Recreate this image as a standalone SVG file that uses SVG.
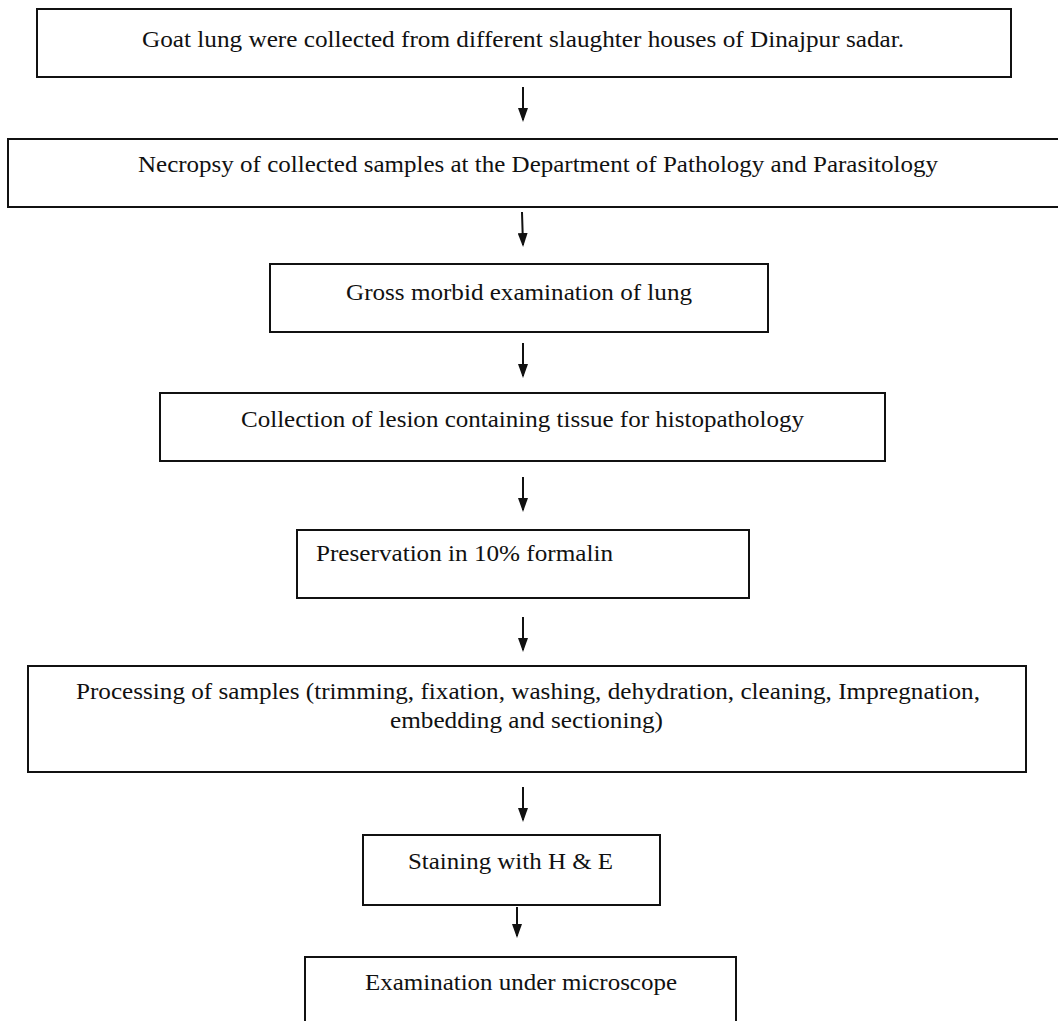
<svg xmlns="http://www.w3.org/2000/svg" width="1058" height="1021" viewBox="0 0 1058 1021">
<style>
.box{fill:#fff;stroke:#111;stroke-width:2}
.t{font-family:"Liberation Serif",serif;font-size:24px;fill:#111}
.c{stroke:#111;stroke-width:2;fill:none}
</style>
<defs>
<marker id="ah" markerWidth="7" markerHeight="5" refX="6" refY="2.5" orient="auto" markerUnits="strokeWidth">
<path d="M0,0 L7,2.5 L0,5 Z" fill="#111"/>
</marker>
</defs>
<rect width="1058" height="1021" fill="#fff"/>
<g id="n1"><rect class="box" x="37" y="9" width="974" height="68"/><text class="t" x="142" y="47" textLength="762" lengthAdjust="spacingAndGlyphs">Goat lung were collected from different slaughter houses of Dinajpur sadar.</text></g>
<g id="n2"><rect class="box" x="8" y="139" width="1070" height="68"/><text class="t" x="138" y="172" textLength="800" lengthAdjust="spacingAndGlyphs">Necropsy of collected samples at the Department of Pathology and Parasitology</text></g>
<g id="n3"><rect class="box" x="270" y="264" width="498" height="68"/><text class="t" x="346" y="300" textLength="346" lengthAdjust="spacingAndGlyphs">Gross morbid examination of lung</text></g>
<g id="n4"><rect class="box" x="160" y="393" width="725" height="68"/><text class="t" x="241" y="427" textLength="563" lengthAdjust="spacingAndGlyphs">Collection of lesion containing tissue for histopathology</text></g>
<g id="n5"><rect class="box" x="297" y="530" width="452" height="68"/><text class="t" x="316" y="561" textLength="297" lengthAdjust="spacingAndGlyphs">Preservation in 10% formalin</text></g>
<g id="n6"><rect class="box" x="28" y="666" width="998" height="106"/><text class="t" x="76" y="699" textLength="904" lengthAdjust="spacingAndGlyphs">Processing of samples (trimming, fixation, washing, dehydration, cleaning, Impregnation,</text><text class="t" x="390" y="728" textLength="273" lengthAdjust="spacingAndGlyphs">embedding and sectioning)</text></g>
<g id="n7"><rect class="box" x="363" y="835" width="297" height="70"/><text class="t" x="408" y="869" textLength="205" lengthAdjust="spacingAndGlyphs">Staining with H &amp; E</text></g>
<g id="n8"><rect class="box" x="305" y="957" width="431" height="80"/><text class="t" x="365" y="990" textLength="312" lengthAdjust="spacingAndGlyphs">Examination under microscope</text></g>
<g id="connectors">
<line class="c" x1="523" y1="87" x2="523" y2="120" marker-end="url(#ah)"/>
<line class="c" x1="522" y1="212" x2="523" y2="245" marker-end="url(#ah)"/>
<line class="c" x1="523" y1="343" x2="523" y2="376" marker-end="url(#ah)"/>
<line class="c" x1="523" y1="477" x2="523" y2="510" marker-end="url(#ah)"/>
<line class="c" x1="523" y1="617" x2="523" y2="650" marker-end="url(#ah)"/>
<line class="c" x1="523" y1="787" x2="523" y2="820" marker-end="url(#ah)"/>
<line class="c" x1="517" y1="907" x2="517" y2="936" marker-end="url(#ah)"/>
</g>
</svg>
